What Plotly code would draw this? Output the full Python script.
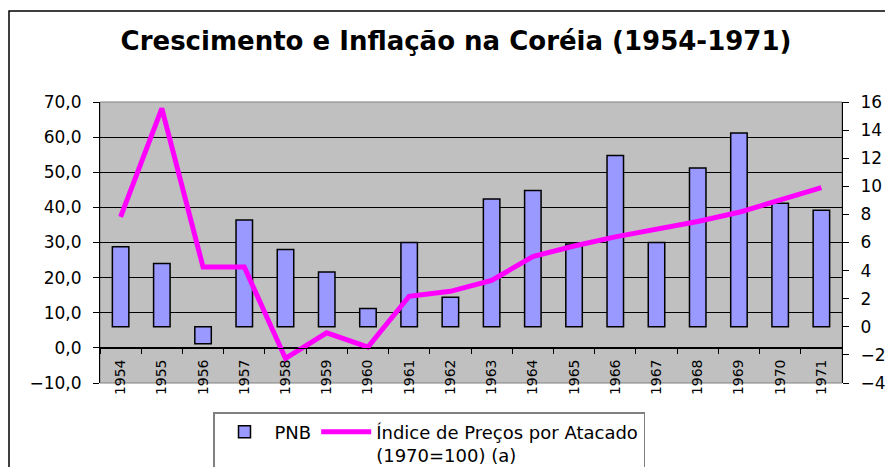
import plotly.graph_objects as go

anos = [str(a) for a in range(1954, 1972)]
pnb = [5.7, 4.5, -1.2, 7.6, 5.5, 3.9, 1.3, 6.0, 2.1, 9.1, 9.7, 5.9, 12.2, 6.0, 11.3, 13.8, 8.8, 8.3]
precos = [37.3, 68.2, 23.0, 23.0, -3.0, 4.3, 0.2, 14.7, 16.1, 19.2, 26.0, 29.0, 31.6, 33.7, 36.0, 38.6, 42.0, 45.6]

esq_ticks = [-10, 0, 10, 20, 30, 40, 50, 60, 70]
dir_ticks = [-4, -2, 0, 2, 4, 6, 8, 10, 12, 14, 16]

fonte = "DejaVu Sans"
# the page puts the figure 8px in from the top-left corner
off = 8
W, H = 893 - off, 467 - off
ml, mr, mt, mb = 100 - off, 893 - 842, 102 - off, 467 - 383
plot_w = W - ml - mr
plot_h = H - mt - mb


def px_x(x):
    return (x - off - ml) / plot_w


def px_y(y):
    return (H - mb - (y - off)) / plot_h


fig = go.Figure()

# bars go on the primary y (drawn under the overlay), right side scale
fig.add_trace(go.Bar(
    x=anos, y=pnb, name="PNB", width=0.4,
    marker=dict(color="#9999FF", line=dict(color="black", width=1.5)),
    yaxis="y"
))

fig.add_trace(go.Scatter(
    x=anos, y=precos, mode="lines",
    name="Índice de Preços por Atacado<br>(1970=100) (a)",
    line=dict(color="#FF00FF", width=5),
    yaxis="y2"
))

# x axis sits on the 0,0 line of the left scale
pos_zero = (0 - (-10)) / 80

fig.update_layout(
    width=W, height=H,
    margin=dict(l=ml, r=mr, t=mt, b=mb, autoexpand=False),
    paper_bgcolor="white",
    plot_bgcolor="#C0C0C0",
    separators=",.",
    font=dict(family=fonte, size=16, color="black"),
    title=dict(
        text="<b>Crescimento e Inflação na Coréia (1954-1971)</b>",
        x=(456 - off) / W, xref="container", xanchor="center",
        y=1 - (41 - off) / H, yanchor="middle",
        font=dict(family=fonte, size=26, color="black")
    ),
    showlegend=True,
    legend=dict(
        orientation="h", x=px_x(213), y=px_y(412),
        xanchor="left", yanchor="top", valign="top",
        bgcolor="white", bordercolor="#808080", borderwidth=1.5,
        font=dict(family=fonte, size=18, color="black"),
        itemwidth=50, traceorder="normal"
    ),
    xaxis=dict(
        type="category", anchor="free", position=pos_zero,
        showline=True, linecolor="black", linewidth=1,
        ticks="outside", ticklen=5, tickcolor="black", tickson="boundaries",
        tickangle=-90, tickfont=dict(family=fonte, size=14, color="black"),
        ticklabelstandoff=5,
        showgrid=False, zeroline=False, range=[-0.5, 17.5], fixedrange=True
    ),
    yaxis=dict(
        side="right", range=[-4, 16], tickvals=dir_ticks,
        showline=True, linecolor="black", linewidth=1,
        ticks="outside", ticklen=6, tickcolor="black",
        ticklabelstandoff=8,
        showgrid=False, zeroline=False,
        tickfont=dict(family=fonte, size=17, color="black")
    ),
    yaxis2=dict(
        overlaying="y", side="left", range=[-10, 70], tickvals=esq_ticks,
        tickformat=".1f",
        showline=True, linecolor="black", linewidth=1,
        ticks="outside", ticklen=6, tickcolor="black",
        ticklabelstandoff=8,
        showgrid=True, gridcolor="black", gridwidth=1,
        zeroline=False,
        tickfont=dict(family=fonte, size=17, color="black")
    ),
)

fig.update_layout(shapes=[
    # thin grey frame of the plot area
    dict(type="rect", xref="paper", yref="paper", x0=0, x1=1, y0=0, y1=1,
         line=dict(color="#808080", width=1), layer="below"),
    # outer chart border, running off the right and bottom edges
    dict(type="rect", xref="paper", yref="paper",
         x0=px_x(9), x1=px_x(910), y0=px_y(490), y1=px_y(11),
         line=dict(color="black", width=1.5), layer="above"),
])

fig.write_html("out.html")
